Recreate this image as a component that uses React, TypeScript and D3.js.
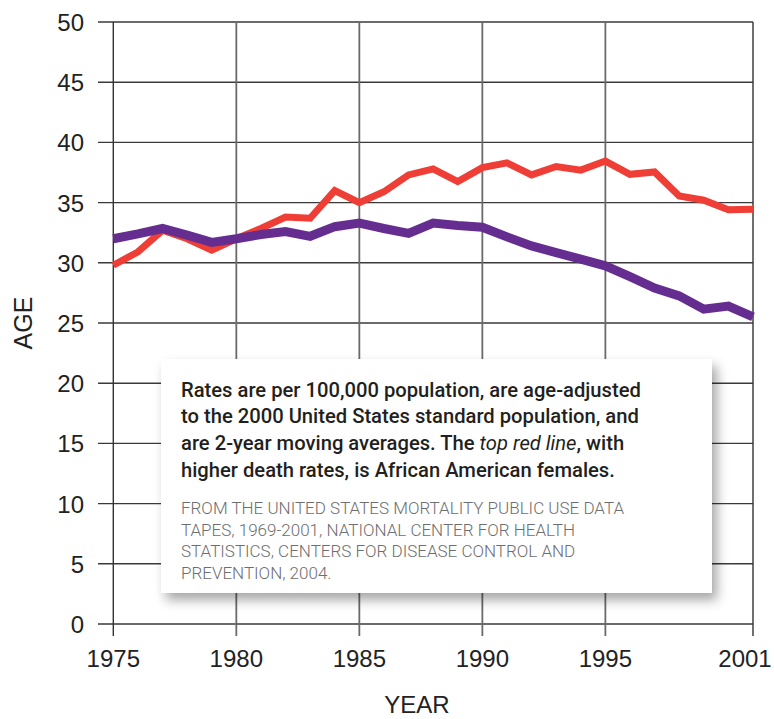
import React from "react";
import * as d3 from "d3";

const years = d3.range(1975, 2002);
const redValues = [29.8, 30.9, 32.7, 32.0, 31.05, 32.0, 32.85, 33.8, 33.7, 36.0, 35.0, 35.9, 37.3, 37.8, 36.75, 37.9, 38.3, 37.3, 38.0, 37.7, 38.45, 37.35, 37.55, 35.55, 35.2, 34.4, 34.45];
const purpleValues = [32.0, 32.4, 32.85, 32.3, 31.7, 32.0, 32.35, 32.6, 32.2, 33.0, 33.3, 32.85, 32.45, 33.3, 33.1, 32.95, 32.15, 31.4, 30.85, 30.3, 29.75, 28.85, 27.9, 27.25, 26.15, 26.4, 25.5];
const xTicks = [1975, 1980, 1985, 1990, 1995, 2001];
const yTicks = [0, 5, 10, 15, 20, 25, 30, 35, 40, 45, 50];
const noteLines = [
  "Rates are per 100,000 population, are age-adjusted",
  "to the 2000 United States standard population, and",
];
const sourceLines = [
  "FROM THE UNITED STATES MORTALITY PUBLIC USE DATA",
  "TAPES, 1969-2001, NATIONAL CENTER FOR HEALTH",
  "STATISTICS, CENTERS FOR DISEASE CONTROL AND",
  "PREVENTION, 2004.",
];

export default function App() {
  const W = 774, H = 719;
  const x = d3.scaleLinear().domain([1975, 2001]).range([113.3, 753]);
  const y = d3.scaleLinear().domain([0, 50]).range([624, 22]);
  const line = d3
    .line<number>()
    .x((_, i) => x(years[i]))
    .y((d) => y(d));
  const font = "'Liberation Sans', Arial, Helvetica, sans-serif";
  const boxFont = "Roboto, 'Liberation Sans', Arial, sans-serif";
  return (
    <svg width={W} height={H} style={{ position: "absolute", left: 0, top: 0, background: "#fff" }}>
      <defs>
        <filter id="sh" x="-10%" y="-10%" width="125%" height="130%">
          <feDropShadow dx="5" dy="7" stdDeviation="6" floodColor="#000" floodOpacity="0.35" />
        </filter>
      </defs>
      {yTicks.map((t) => (
        <line key={"h" + t} x1={98} x2={x(2001)} y1={y(t)} y2={y(t)} stroke="#3a3a3a" strokeWidth={1.4} />
      ))}
      {xTicks.map((t) => (
        <line
          key={"v" + t}
          x1={x(t)}
          x2={x(t)}
          y1={y(50)}
          y2={y(0) + 12}
          stroke={t === 1975 || t === 2001 ? "#333" : "#6a6a6a"}
          strokeWidth={t === 1975 || t === 2001 ? 1.4 : 1.8}
        />
      ))}
      {yTicks.map((t) => (
        <text key={"yl" + t} x={84} y={y(t) + 9} textAnchor="end" fontFamily={font} fontSize={24} fill="#222">
          {t}
        </text>
      ))}
      {xTicks.map((t) => (
        <text
          key={"xl" + t}
          x={x(t)}
          dx={t === 2001 ? -8 : 0}
          y={667}
          textAnchor="middle"
          fontFamily={font}
          fontSize={24}
          fill="#222"
        >
          {t}
        </text>
      ))}
      <text x={417} y={713} textAnchor="middle" fontFamily={font} fontSize={24} fill="#222">
        YEAR
      </text>
      <text
        transform={`translate(32,${323}) rotate(-90)`}
        textAnchor="middle"
        fontFamily={font}
        fontSize={25}
        fill="#222"
      >
        AGE
      </text>
      <path d={line(redValues) || ""} fill="none" stroke="#ee3e36" strokeWidth={7} strokeLinejoin="miter" />
      <path d={line(purpleValues) || ""} fill="none" stroke="#662d91" strokeWidth={9} strokeLinejoin="miter" />
      <rect x={161} y={359} width={551} height={234} fill="#fff" filter="url(#sh)" />
      <g fontFamily={boxFont} fontSize={20.2} fontWeight={500} fill="#231f20">
        {noteLines.map((l, i) => (
          <text key={"n" + i} x={181} y={396.5 + i * 26.7}>
            {l}
          </text>
        ))}
        <text x={181} y={396.5 + 2 * 26.7}>
          are 2-year moving averages. The <tspan fontStyle="italic" fontWeight={400}>top red line</tspan>, with
        </text>
        <text x={181} y={396.5 + 3 * 26.7}>
          higher death rates, is African American females.
        </text>
      </g>
      <g fontFamily={boxFont} fontSize={17} fontWeight={300} fill="#6d6e70">
        {sourceLines.map((l, i) => (
          <text key={"s" + i} x={181} y={514 + i * 21.6}>
            {l}
          </text>
        ))}
      </g>
    </svg>
  );
}
